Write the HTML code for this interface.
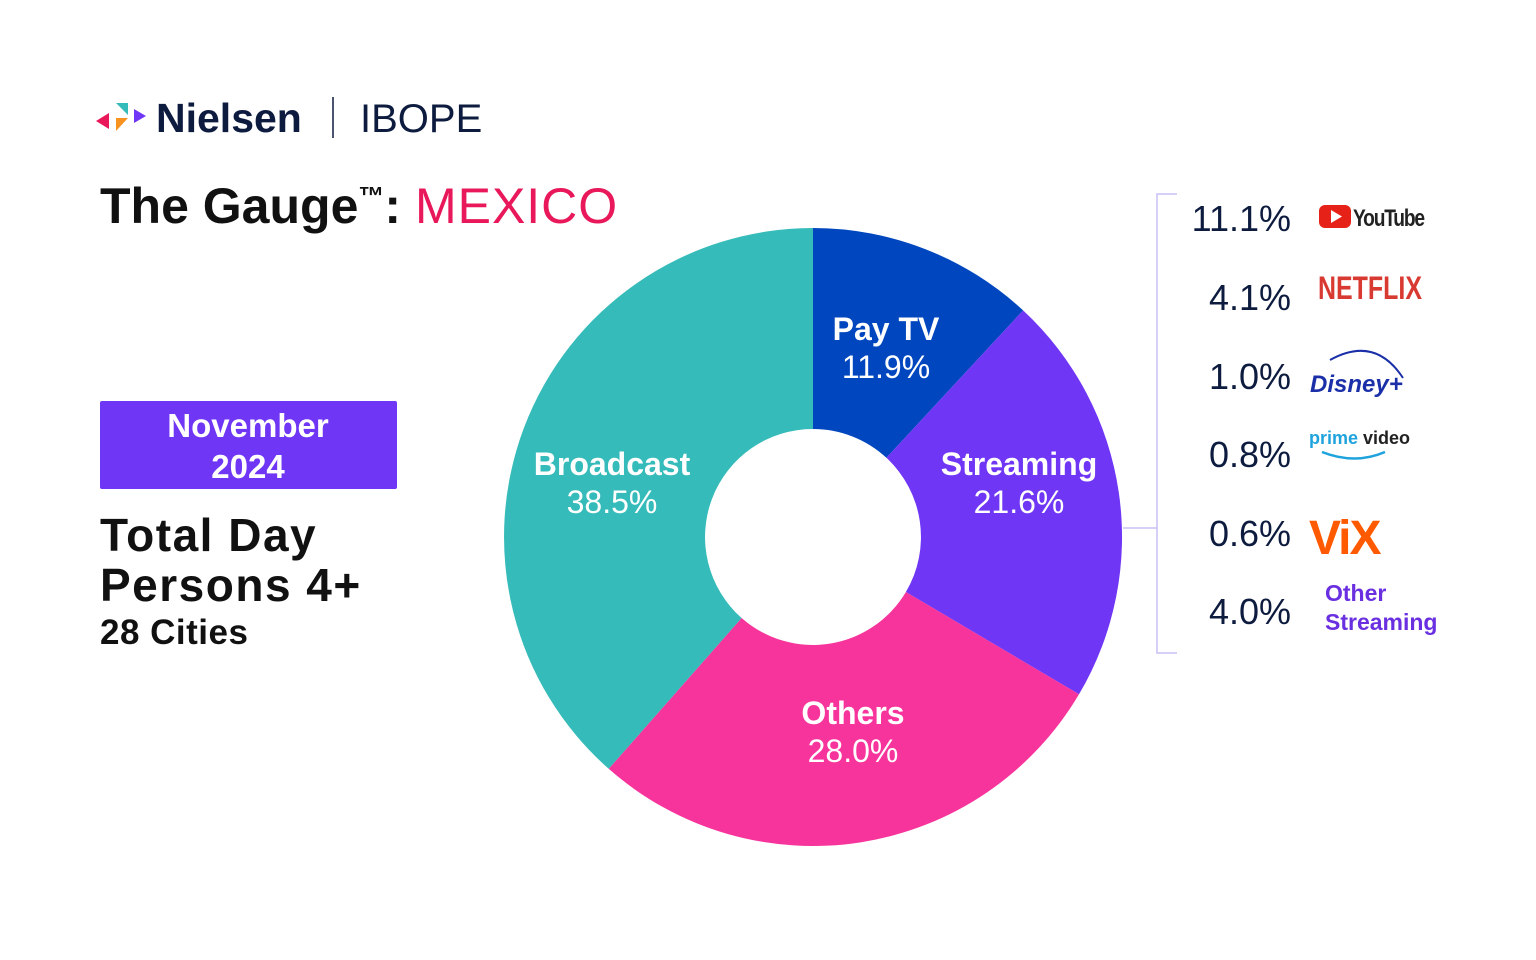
<!DOCTYPE html>
<html><head><meta charset="utf-8"><style>
html,body{margin:0;padding:0;background:#fff;}
svg{display:block;font-family:"Liberation Sans",sans-serif;}
</style></head><body>
<svg width="1536" height="960" viewBox="0 0 1536 960" xmlns="http://www.w3.org/2000/svg">
<rect width="1536" height="960" fill="#fff"/>
<!-- logo -->
<polygon points="96,121 109,113 109,129" fill="#e8185a"/>
<polygon points="116,103 128,103 128,115" fill="#35bbb9"/>
<polygon points="116,118 128,118 116,131" fill="#f7931e"/>
<polygon points="134,109 146,116 134,123" fill="#7036f5"/>
<text x="156" y="132" font-size="41" font-weight="bold" fill="#0d1b3e" letter-spacing="0">Nielsen</text>
<line x1="333" y1="97" x2="333" y2="138" stroke="#0d1b3e" stroke-width="1.5"/>
<text x="360" y="132" font-size="40" fill="#0d1b3e">IBOPE</text>
<!-- title -->
<text x="100" y="223" font-size="50" font-weight="bold" fill="#111">The Gauge<tspan font-size="26" dy="-18">™</tspan><tspan dy="18">:</tspan> <tspan font-weight="normal" fill="#e8185a" letter-spacing="1">MEXICO</tspan></text>
<!-- date box -->
<rect x="100" y="401" width="297" height="88" rx="2" fill="#7036f5"/>
<text x="248" y="437" font-size="33" font-weight="bold" fill="#fff" text-anchor="middle">November</text>
<text x="248" y="478" font-size="33" font-weight="bold" fill="#fff" text-anchor="middle">2024</text>
<text x="100" y="551" font-size="46" font-weight="bold" fill="#111" letter-spacing="1.5">Total Day</text>
<text x="100" y="601" font-size="46" font-weight="bold" fill="#111" letter-spacing="1.5">Persons 4+</text>
<text x="100" y="644" font-size="35" font-weight="bold" fill="#111" letter-spacing="0.5">28 Cities</text>
<!-- donut -->
<path d="M813,228 A309,309 0 0 1 1023.1,310.4 L886.4,457.8 A108,108 0 0 0 813,429 Z" fill="#0047bf"/>
<path d="M1023.1,310.4 A309,309 0 0 1 1079.0,694.3 L905.9,592.0 A108,108 0 0 0 886.4,457.8 Z" fill="#7036f5"/>
<path d="M1079.0,694.3 A309,309 0 0 1 608.7,768.8 L741.6,618.0 A108,108 0 0 0 905.9,592.0 Z" fill="#f7339c"/>
<path d="M608.7,768.8 A309,309 0 0 1 813,228 L813,429 A108,108 0 0 0 741.6,618.0 Z" fill="#35bbb9"/>
<g fill="#fff" font-size="32" text-anchor="middle">
<text x="886" y="340" font-weight="bold">Pay TV</text><text x="886" y="378">11.9%</text>
<text x="1019" y="475" font-weight="bold">Streaming</text><text x="1019" y="513">21.6%</text>
<text x="853" y="724" font-weight="bold">Others</text><text x="853" y="762">28.0%</text>
<text x="612" y="475" font-weight="bold">Broadcast</text><text x="612" y="513">38.5%</text>
</g>
<!-- bracket -->
<path d="M1177,194 H1157 V653 H1177 M1157,528 H1123" fill="none" stroke="#c9c0f5" stroke-width="1.5"/>
<g fill="#0d1b3e" font-size="36" text-anchor="end">
<text x="1291" y="231">11.1%</text>
<text x="1291" y="310">4.1%</text>
<text x="1291" y="389">1.0%</text>
<text x="1291" y="467">0.8%</text>
<text x="1291" y="546">0.6%</text>
<text x="1291" y="624">4.0%</text>
</g>
<!-- logos -->
<rect x="1319" y="205" width="32" height="23" rx="6" fill="#e62117"/>
<polygon points="1331,210 1342,216.5 1331,223" fill="#fff"/>
<text x="1353" y="226" font-size="24" font-weight="bold" fill="#222" letter-spacing="-1.5" transform="translate(1353 0) scale(0.8 1) translate(-1353 0)">YouTube</text>
<text x="1318" y="299" font-size="32" font-weight="bold" fill="#d83a32" transform="translate(1318 0) scale(0.78 1) translate(-1318 0)">NETFLIX</text>
<path d="M1330,360 Q1375,335 1403,378" fill="none" stroke="#1a2fa8" stroke-width="2"/>
<text x="1310" y="392" font-size="24" font-style="italic" font-weight="bold" fill="#1a2fa8">Disney+</text>
<text x="1309" y="444" font-size="18" font-weight="bold" fill="#1fa3dd">prime <tspan fill="#222">video</tspan></text>
<path d="M1322,452 Q1355,465 1385,452" fill="none" stroke="#1fa3dd" stroke-width="2.5"/>
<text x="1309" y="554" font-size="48" font-weight="bold" fill="#ff5a00" letter-spacing="-2">ViX</text>
<text x="1325" y="601" font-size="23" font-weight="bold" fill="#6a2fe0">Other</text>
<text x="1325" y="630" font-size="23" font-weight="bold" fill="#6a2fe0">Streaming</text>
</svg>
</body></html>
